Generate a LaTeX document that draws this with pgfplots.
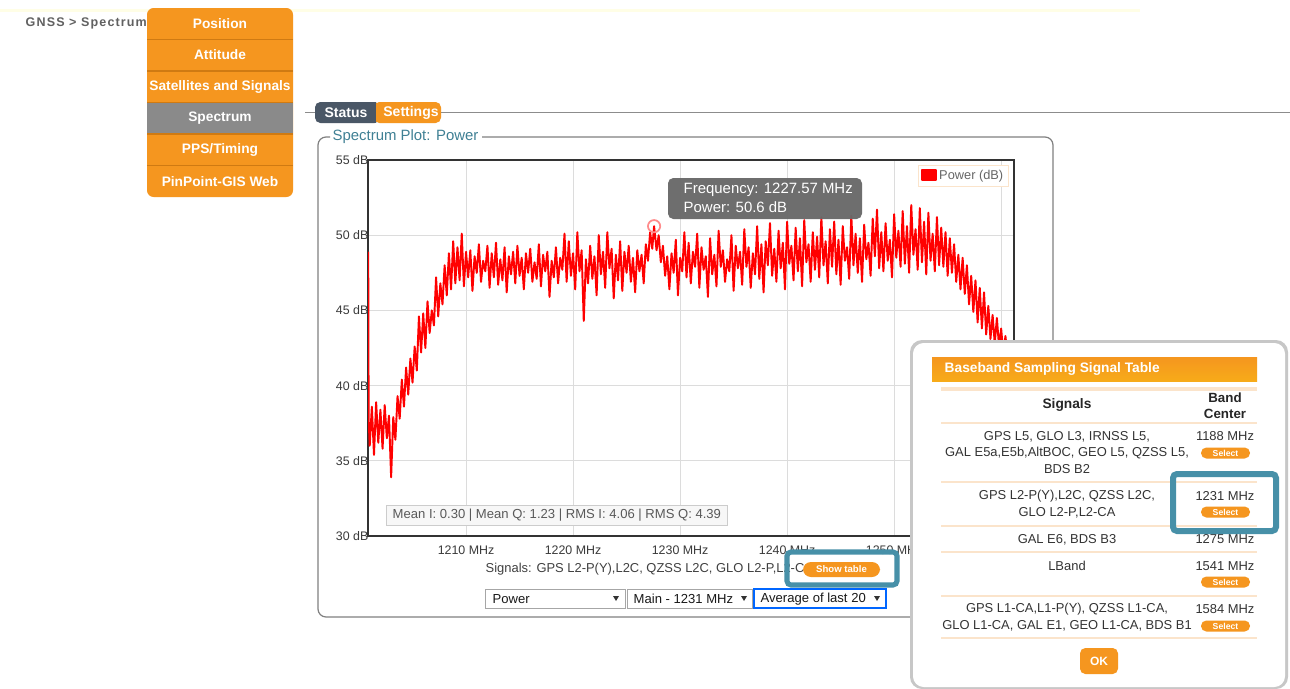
\documentclass[border=0pt]{standalone}
\usepackage{pgfplots}
\pgfplotsset{compat=1.18}
\usepackage{fontspec}
\setmainfont{Liberation Sans}
\definecolor{menuorange}{HTML}{F5961F}
\definecolor{menusep}{HTML}{CF7A12}
\definecolor{menugray}{HTML}{8A8A8A}
\definecolor{tabdark}{HTML}{4A5766}
\definecolor{hlblue}{HTML}{4790A8}
\definecolor{fieldtext}{HTML}{3F8094}
\definecolor{beige}{HTML}{FBE4CB}
\definecolor{tipgray}{HTML}{696969}
\definecolor{txtgray}{HTML}{3A3A3A}
\definecolor{gridgray}{HTML}{DCDCDC}
\newcommand\fs[1]{\fontsize{#1}{#1}\selectfont}
\begin{document}
\begin{tikzpicture}[x=0.75pt,y=-0.75pt]
\path[use as bounding box] (0,0) rectangle (1290,689);
\fill[white] (0,0) rectangle (1290,689);
\fill[yellow!10] (0,9) rectangle (1140,12);
% breadcrumb
\node[anchor=west, text=black!62, font=\fs{9.4}\bfseries\addfontfeatures{LetterSpace=9}] at (21,23) {GNSS > Spectrum};
% tabs and fieldset
\draw[black!45, line width=1.2pt] (305,112.5) -- (1290,112.5);
\fill[tabdark, rounded corners=4pt] (315,102) rectangle (380,123);
\fill[menuorange, rounded corners=4pt] (374,102) rectangle (441,123);
\fill[tabdark] (370,102) rectangle (376,123);
\node[text=white, font=\fs{10.5}\bfseries] at (346,112.5) {Status};
\node[text=white, font=\fs{10.5}\bfseries] at (411,112.5) {Settings};
\draw[black!50, line width=0.9pt, rounded corners=6pt] (330,137) -- (318,137) -- (318,617) -- (1053,617) -- (1053,137) -- (482,137);
\node[anchor=west, text=fieldtext, font=\fs{11.2}, inner sep=1pt] at (331,137) {Spectrum Plot: Power};
% menu
\fill[menuorange, rounded corners=5pt] (147,8) rectangle (293,197);
\fill[menugray] (147,102.5) rectangle (293,134);
\foreach \yy in {39.5,71,102.5,134,165.5} {\draw[menusep, line width=0.9pt] (147,\yy) -- (293,\yy);}
\foreach \yy/\tx in {23.5/Position,55/Attitude,87/Satellites and Signals,118/Spectrum,150/PPS\slash Timing,181.5/PinPoint-GIS Web}
  {\node[text=white, font=\fs{10.3}\bfseries] at (220,\yy) {\tx};}
% axis
\coordinate (axsw) at (368,536);
\begin{scope}[x=1cm,y=1cm]
\begin{axis}[at={(axsw)}, anchor=south west, scale only axis,
  width=484.5pt, height=282pt,
  xmin=1200.84, xmax=1261.2, ymin=30, ymax=55,
  xtick={1210,1220,1230,1240,1250,1260},
  xticklabels={1210 MHz,1220 MHz,1230 MHz,1240 MHz,1250 MHz,1260 MHz},
  ytick={30,35,40,45,50,55},
  yticklabels={30 dB,35 dB,40 dB,45 dB,50 dB,55 dB},
  major tick length=0pt,
  grid=major, major grid style={draw=gridgray, line width=0.8pt},
  axis line style={draw=black!80, line width=1.3pt},
  tick label style={font=\fs{9.3}, text=txtgray},
  xticklabel style={yshift=-3.5pt},
  yticklabel style={xshift=1.5pt, inner sep=1pt},
  legend style={at={(0.991,0.987)}, anchor=north east, draw=beige, fill=white,
     font=\fs{9.6}, text=black!60, inner sep=1.5pt, row sep=0pt},
  legend cell align=left,
  legend image code/.code={\fill[red] (0pt,-3.6pt) rectangle (10.5pt,4.2pt);},
  axis on top=false]
\addplot[red, line width=1.45pt, line join=round] coordinates {
(1200.86,48.9) (1200.9,37.8) (1201.0,36.0) (1201.2,38.6) (1201.4,35.4) (1201.6,38.9) (1201.8,36.2) (1202.0,38.4) (1202.2,35.8) (1202.4,38.7) (1202.6,36.5) (1202.8,38.0) (1203.0,33.9) (1203.2,37.9) (1203.4,36.4) (1203.6,39.3) (1203.8,37.8)
(1204.0,40.4) (1204.2,38.6) (1204.4,41.2) (1204.6,39.4) (1204.8,41.8) (1205.0,40.2) (1205.2,42.6) (1205.4,41.0) (1205.6,44.6) (1205.8,42.2)
(1206.0,44.8) (1206.2,42.5) (1206.4,45.6) (1206.6,43.5) (1206.8,45.0) (1207.0,44.0) (1207.2,47.2) (1207.4,44.6) (1207.6,46.8) (1207.8,45.4)
(1208.0,48.0) (1208.2,46.0) (1208.4,48.8) (1208.6,46.4) (1208.8,49.6) (1209.0,46.8) (1209.2,49.2) (1209.4,47.0) (1209.6,50.1) (1209.8,46.6)
(1210.0,48.9) (1210.2,47.2) (1210.4,49.0) (1210.6,46.3) (1210.8,48.6) (1211.0,47.5) (1211.2,49.4) (1211.4,46.9) (1211.6,48.3) (1211.8,47.6)
(1212.0,49.3) (1212.2,46.5) (1212.4,48.8) (1212.6,47.2) (1212.8,49.5) (1213.0,46.7) (1213.2,48.4) (1213.4,47.0) (1213.6,49.2) (1213.8,46.2)
(1214.0,48.6) (1214.2,47.4) (1214.4,48.9) (1214.6,46.8) (1214.8,49.3) (1215.0,47.3) (1215.2,48.5) (1215.4,46.4) (1215.6,48.8) (1215.8,47.5)
(1216.0,49.1) (1216.2,46.9) (1216.4,48.2) (1216.6,47.1) (1216.8,49.4) (1217.0,46.6) (1217.2,48.7) (1217.4,47.6) (1217.6,48.9) (1217.8,45.9)
(1218.0,48.3) (1218.2,47.2) (1218.4,49.2) (1218.6,46.8) (1218.8,48.5) (1219.0,47.7) (1219.2,50.1) (1219.4,46.9) (1219.6,49.6) (1219.8,47.3)
(1220.0,48.8) (1220.2,46.4) (1220.4,50.2) (1220.6,47.6) (1220.8,49.0) (1221.0,44.3) (1221.2,48.4) (1221.4,46.8) (1221.6,49.3) (1221.8,47.1)
(1222.0,48.6) (1222.2,46.0) (1222.4,50.0) (1222.6,47.4) (1222.8,48.9) (1223.0,46.5) (1223.2,50.2) (1223.4,47.8) (1223.6,49.1) (1223.8,45.8)
(1224.0,48.7) (1224.2,47.0) (1224.4,49.6) (1224.6,46.3) (1224.8,48.9) (1225.0,47.5) (1225.2,49.3) (1225.4,46.9) (1225.6,48.5) (1225.8,46.2)
(1226.0,49.0) (1226.2,47.6) (1226.4,48.7) (1226.6,46.8) (1226.8,49.4) (1227.0,48.3) (1227.2,50.2) (1227.4,49.1) (1227.57,50.6) (1227.8,49.0)
(1228.0,50.0) (1228.2,48.2) (1228.4,49.3) (1228.6,47.3) (1228.8,48.6) (1229.0,46.4) (1229.2,48.8) (1229.4,47.5) (1229.6,49.7) (1229.8,46.0)
(1230.0,48.5) (1230.2,47.6) (1230.4,50.2) (1230.6,47.2) (1230.8,49.5) (1231.0,46.8) (1231.2,48.9) (1231.4,47.9) (1231.6,50.1) (1231.8,46.5)
(1232.0,49.2) (1232.2,47.7) (1232.4,48.6) (1232.6,45.9) (1232.8,49.8) (1233.0,47.4) (1233.2,48.7) (1233.4,46.6) (1233.6,50.3) (1233.8,47.9)
(1234.0,49.0) (1234.2,46.9) (1234.4,48.4) (1234.6,47.6) (1234.8,50.0) (1235.0,46.3) (1235.2,49.3) (1235.4,47.8) (1235.6,48.9) (1235.8,46.7)
(1236.0,50.4) (1236.2,47.9) (1236.4,49.2) (1236.6,46.5) (1236.8,48.8) (1237.0,47.4) (1237.2,50.6) (1237.4,47.1) (1237.6,49.4) (1237.8,46.2)
(1238.0,49.6) (1238.2,48.0) (1238.4,50.8) (1238.6,47.3) (1238.8,49.1) (1239.0,46.9) (1239.2,50.3) (1239.4,47.8) (1239.6,49.5) (1239.8,46.4)
(1240.0,50.9) (1240.2,48.1) (1240.4,49.3) (1240.6,47.0) (1240.8,50.5) (1241.0,47.6) (1241.2,49.8) (1241.4,46.6) (1241.6,51.0) (1241.8,48.2)
(1242.0,49.4) (1242.2,46.9) (1242.4,50.2) (1242.6,47.7) (1242.8,49.9) (1243.0,47.2) (1243.2,51.2) (1243.4,48.0) (1243.6,49.6) (1243.8,46.8)
(1244.0,50.4) (1244.2,47.9) (1244.4,50.9) (1244.6,47.4) (1244.8,49.7) (1245.0,46.7) (1245.2,50.6) (1245.4,48.3) (1245.6,49.2) (1245.8,47.1)
(1246.0,51.3) (1246.2,48.0) (1246.4,50.1) (1246.6,47.5) (1246.8,49.8) (1247.0,46.9) (1247.2,50.7) (1247.4,48.4) (1247.6,49.5) (1247.8,47.3)
(1248.0,51.1) (1248.2,48.6) (1248.4,51.7) (1248.6,47.8) (1248.8,50.2) (1249.0,47.6) (1249.2,50.8) (1249.4,48.3) (1249.6,49.7) (1249.8,47.2)
(1250.0,51.4) (1250.2,48.5) (1250.4,50.3) (1250.6,47.9) (1250.8,51.6) (1251.0,48.1) (1251.2,50.6) (1251.4,47.5) (1251.6,52.0) (1251.8,48.7)
(1252.0,50.4) (1252.2,47.7) (1252.4,51.8) (1252.6,48.2) (1252.8,50.9) (1253.0,47.4) (1253.2,51.5) (1253.4,48.3) (1253.6,50.1) (1253.8,47.6)
(1254.0,51.2) (1254.2,48.0) (1254.4,50.5) (1254.6,47.9) (1254.8,50.2) (1255.0,47.3) (1255.2,49.8) (1255.4,47.5) (1255.6,49.4) (1255.8,46.9)
(1256.0,48.7) (1256.2,46.4) (1256.4,48.5) (1256.6,46.1) (1256.8,48.0) (1257.0,45.4) (1257.2,47.3) (1257.4,44.9) (1257.6,47.0) (1257.8,44.2)
(1258.0,46.5) (1258.2,43.8) (1258.4,46.2) (1258.6,43.4) (1258.8,45.3) (1259.0,43.1) (1259.2,44.7) (1259.4,42.8) (1259.6,44.5) (1259.8,42.6)
(1260.0,43.8) (1260.2,42.1) (1260.4,43.3) (1260.6,41.8) (1260.8,42.9) (1261.0,41.6) (1261.2,42.4)
};
\addlegendentry{Power (dB)}
\addplot[forget plot, only marks, mark=o, mark size=4.6pt, mark options={draw=red!45, line width=1.3pt}] coordinates {(1227.57,50.6)};
\end{axis}
\end{scope}
% tooltip
\fill[tipgray, opacity=0.96, rounded corners=4pt] (668,178) rectangle (862,219);
\node[anchor=west, text=white, font=\fs{11.2}] at (679,189.5) {Frequency: 1227.57 MHz};
\node[anchor=west, text=white, font=\fs{11.2}] at (679,207.5) {Power: 50.6 dB};
% stats box
\fill[black!3] (386,505) rectangle (727,525);
\draw[black!20, line width=0.7pt] (386,505) rectangle (727,525);
\node[anchor=west, text=black!65, font=\fs{9.8}] at (388,515) {Mean I: 0.30 | Mean Q: 1.23 | RMS I: 4.06 | RMS Q: 4.39};
% signals line
\node[anchor=west, text=black!75, font=\fs{9.7}] at (481,569.5) {Signals: GPS L2-P(Y),L2C, QZSS L2C, GLO L2-P,L2-CA};
\fill[menuorange, rounded corners=6pt] (803,562) rectangle (880,577);
\node[text=white, font=\fs{7.2}\bfseries] at (841.5,569.5) {Show table};
\draw[hlblue, line width=3.8pt, rounded corners=3pt] (787,552) rectangle (897,585);
% dropdowns
\draw[black!35, line width=0.7pt] (485,589) rectangle (625,608);
\draw[black!35, line width=0.7pt] (627,589) rectangle (752,608);
\draw[blue!60!cyan, line width=0.8pt] (754,589) rectangle (886,608);
\node[anchor=west, font=\fs{9.8}, text=black!90] at (488,599) {Power};
\node[anchor=west, font=\fs{9.8}, text=black!90] at (629,599) {Main - 1231 MHz};
\node[anchor=west, font=\fs{9.8}, text=black!90] at (756,599) {Average of last 20};
\foreach \xx in {616,744,877} {\fill[black!80] (\xx-3,596) -- (\xx+3,596) -- (\xx,601) -- cycle;}
% popup
\fill[black!22, rounded corners=9pt] (910,340) rectangle (1288,689);
\fill[white, rounded corners=8pt] (913,343) rectangle (1285,687);
\shade[top color=menuorange, bottom color=menuorange!80!yellow] (932,357) rectangle (1257,381);
\node[anchor=west, text=white, font=\fs{10.3}\bfseries] at (940,369) {Baseband Sampling Signal Table};
\foreach \yy/\lw in {389/2.4pt,423/2pt,482/2pt,526/2pt,552/2pt,596/2pt,638/1.5pt} {\draw[beige, line width=\lw] (941,\yy) -- (1257,\yy);}
\node[font=\fs{10.3}\bfseries, text=black!85] at (1067,405) {Signals};
\node[font=\fs{10}\bfseries, text=black!85] at (1225,397.5) {Band};
\node[font=\fs{10}\bfseries, text=black!85] at (1225,413.5) {Center};
\begin{scope}[every node/.style={font=\fs{9.7}, text=black!80, inner sep=0pt}]
\node at (1067,436.5) {GPS L5, GLO L3, IRNSS L5,};
\node at (1067,453) {GAL E5a,E5b,AltBOC, GEO L5, QZSS L5,};
\node at (1067,469.5) {BDS B2};
\node at (1067,496.5) {GPS L2-P(Y),L2C, QZSS L2C,};
\node at (1067,513) {GLO L2-P,L2-CA};
\node at (1067,539.5) {GAL E6, BDS B3};
\node at (1067,566) {LBand};
\node at (1067,609.5) {GPS L1-CA,L1-P(Y), QZSS L1-CA,};
\node at (1067,626) {GLO L1-CA, GAL E1, GEO L1-CA, BDS B1};
\node at (1225,436.5) {1188 MHz};
\node at (1225,496.5) {1231 MHz};
\node at (1225,539.5) {1275 MHz};
\node at (1225,566) {1541 MHz};
\node at (1225,609.5) {1584 MHz};
\end{scope}
\foreach \yy in {453,512,582,626} {
  \fill[menuorange, rounded corners=4pt] (1201,\yy-5.5) rectangle (1250,\yy+5.5);
  \node[text=white, font=\fs{6.5}\bfseries] at (1225.5,\yy) {Select};}
\draw[hlblue, line width=4.5pt, rounded corners=3pt] (1173,474) rectangle (1276,531);
\fill[menuorange, rounded corners=4pt] (1080,648) rectangle (1118,674);
\node[text=white, font=\fs{9}\bfseries] at (1099,661) {OK};
\end{tikzpicture}
\end{document}
